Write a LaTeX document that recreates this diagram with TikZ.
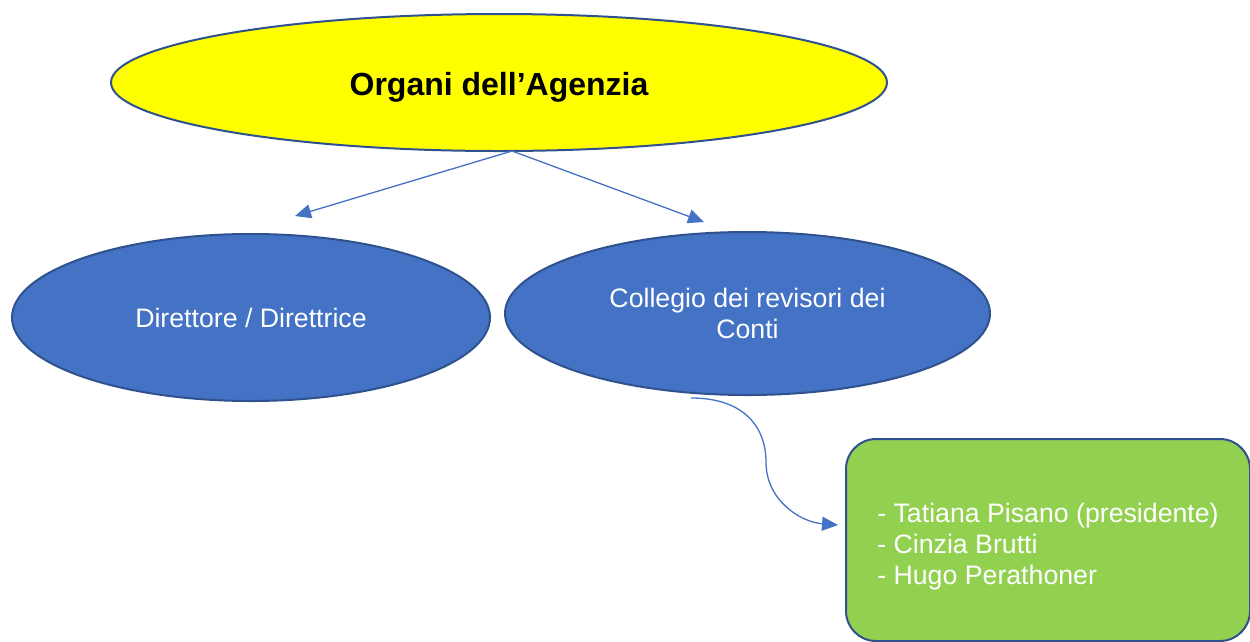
\documentclass[tikz,border=0pt]{standalone}
\usepackage{fontspec}
\setmainfont{Liberation Sans}
\usetikzlibrary{shapes.geometric,arrows.meta}
\definecolor{bord}{HTML}{2F528F}
\definecolor{blu}{HTML}{4472C4}
\definecolor{yel}{HTML}{FFFF00}
\definecolor{grn}{HTML}{92D050}
\tikzset{
  oval/.style={ellipse, draw=bord, line width=2pt, inner sep=0pt},
  conn/.style={draw=blu, line width=1.3pt, -{Triangle[length=16pt,width=14pt]}},
  normtext/.style={font=\fontsize{26.7}{31}\selectfont, text=white}
}
\begin{document}
\begin{tikzpicture}[x=1pt,y=-1pt]
\useasboundingbox (0,0) rectangle (1250,641);
\node[oval, fill=yel, minimum width=776pt, minimum height=137pt, text height=33pt, text depth=7pt,
  font=\fontsize{32}{38}\selectfont\bfseries] (Y) at (499,82.5) {Organi dell’Agenzia};
\node[oval, fill=blu, minimum width=478pt, minimum height=167pt, normtext] (D) at (251,317.5) {Direttore / Direttrice};
\node[oval, fill=blu, minimum width=485pt, minimum height=163pt, normtext, align=center] (C) at (747.5,313.5) {Collegio dei revisori dei\\Conti};
\node[draw=bord, line width=2pt, fill=grn, rounded corners=30pt, minimum width=404pt, minimum height=202pt,
  align=left, normtext, text height=94pt, text depth=6pt, anchor=north west] (G) at (845,438)
  {- Tatiana Pisano (presidente)\\- Cinzia Brutti\\- Hugo Perathoner};
\coordinate (s1) at (512,151);
\coordinate (t1) at (295,216);
\coordinate (t2) at (704,222);
\coordinate (s2) at (691,398);
\coordinate (m) at (766,462);
\coordinate (t3) at (838,525);
\draw[conn] (s2) .. controls (745,398) and (766,428) .. (m) .. controls (766,500) and (800,522) .. (t3);
\draw[conn] (s1) -- (t1);
\draw[conn] (s1) -- (t2);
\end{tikzpicture}
\end{document}
